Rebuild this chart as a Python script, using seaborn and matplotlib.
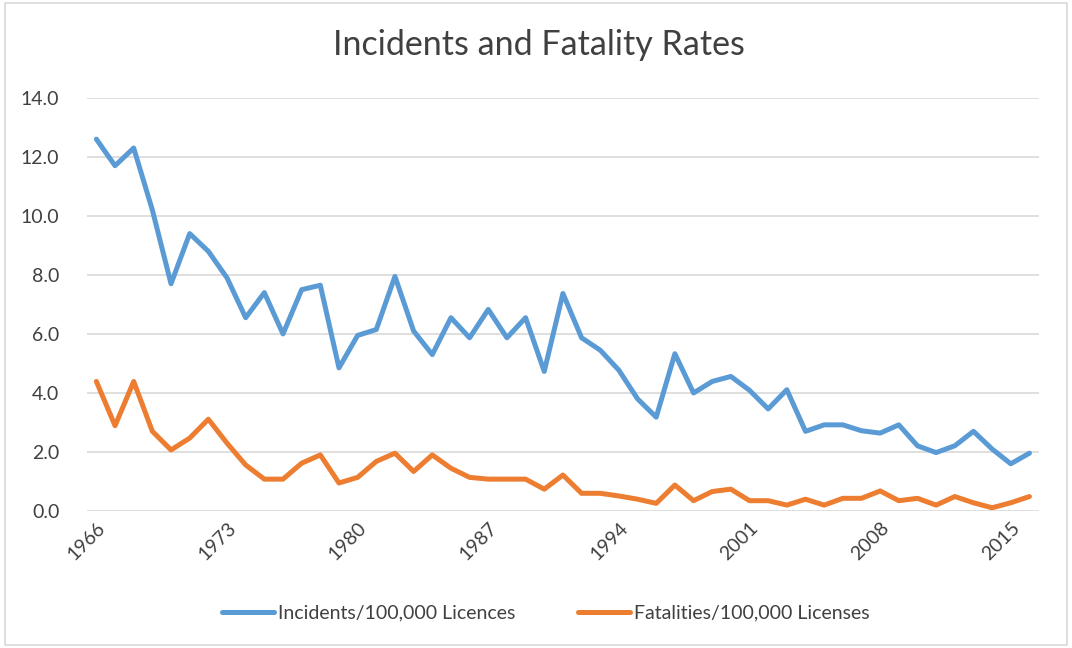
import matplotlib
matplotlib.use("Agg")
import matplotlib.pyplot as plt
import seaborn as sns
import pandas as pd
from matplotlib.patches import Rectangle

# Yearly rates
years = list(range(1966, 2017))
incidents = [12.6, 11.7, 12.3, 10.2, 7.7, 9.4, 8.8, 7.9, 6.55, 7.4,
             6.0, 7.5, 7.65, 4.85, 5.95, 6.15, 7.95, 6.1, 5.3, 6.55,
             5.87, 6.83, 5.87, 6.55, 4.73, 7.37, 5.87, 5.45, 4.77, 3.8,
             3.18, 5.33, 4.0, 4.39, 4.56, 4.09, 3.46, 4.11, 2.7, 2.92,
             2.92, 2.72, 2.64, 2.92, 2.21, 1.98, 2.21, 2.7, 2.1, 1.6,
             1.96]
fatalities = [4.39, 2.89, 4.39, 2.7, 2.07, 2.47, 3.11, 2.3, 1.56, 1.08,
              1.08, 1.62, 1.9, 0.95, 1.14, 1.68, 1.96, 1.34, 1.9, 1.45,
              1.14, 1.08, 1.08, 1.08, 0.74, 1.22, 0.6, 0.6, 0.51, 0.4,
              0.26, 0.88, 0.35, 0.66, 0.74, 0.35, 0.35, 0.2, 0.4, 0.2,
              0.43, 0.43, 0.68, 0.35, 0.43, 0.2, 0.49, 0.28, 0.11, 0.28,
              0.49]
tick_years = [1966, 1973, 1980, 1987, 1994, 2001, 2008, 2015]
y_ticks = [0, 2, 4, 6, 8, 10, 12, 14]

labels = ['Incidents/100,000 Licences', 'Fatalities/100,000 Licenses']
colors = ['#5B9BD5', '#ED7D31']

df = pd.DataFrame({
    'year': years * 2,
    'rate': incidents + fatalities,
    'series': [labels[0]] * len(years) + [labels[1]] * len(years),
})

sns.set_style('white')
plt.rcParams['font.family'] = ['Lato', 'DejaVu Sans']
text_color = '#404040'

fig = plt.figure(figsize=(10.72, 6.48), dpi=100)
ax = fig.add_axes([0.0812, 0.2114, 0.8878, 0.6376])

sns.lineplot(data=df, x='year', y='rate', hue='series', palette=colors,
             linewidth=3.6, ax=ax, legend=True)

ax.set_xlim(1965.5, 2016.5)
ax.set_ylim(0, 14)
ax.set_yticks(y_ticks)
ax.set_yticklabels([f'{v:.1f}' for v in y_ticks], fontsize=14, color=text_color)
ax.set_xticks(tick_years)
ax.set_xticklabels([str(y) for y in tick_years], rotation=45, ha='right',
                   rotation_mode='anchor', fontsize=14, color=text_color)
ax.tick_params(axis='y', length=0, pad=20)
ax.tick_params(axis='x', length=0, pad=6)
ax.set_xlabel('')
ax.set_ylabel('')
ax.grid(axis='y', color='#D9D9D9', linewidth=1.2)
ax.set_axisbelow(True)
for s in ax.spines.values():
    s.set_visible(False)

fig.text(0.503, 0.930, 'Incidents and Fatality Rates', fontsize=24.5,
         color=text_color, ha='center', va='center')

handles, lbls = ax.get_legend_handles_labels()
ax.legend(handles, lbls, loc='center', bbox_to_anchor=(0.509, 0.054),
          bbox_transform=fig.transFigure, ncol=2, frameon=False,
          fontsize=14, labelcolor=text_color, handlelength=2.7,
          handletextpad=0.2, columnspacing=3.2)

# thin chart-area border
fig.patches.append(Rectangle((0.005, 0.004), 0.99, 0.992, transform=fig.transFigure,
                             fill=False, edgecolor='#D9D9D9', linewidth=1.2))

fig.savefig('out.png', dpi=100, facecolor='white')
